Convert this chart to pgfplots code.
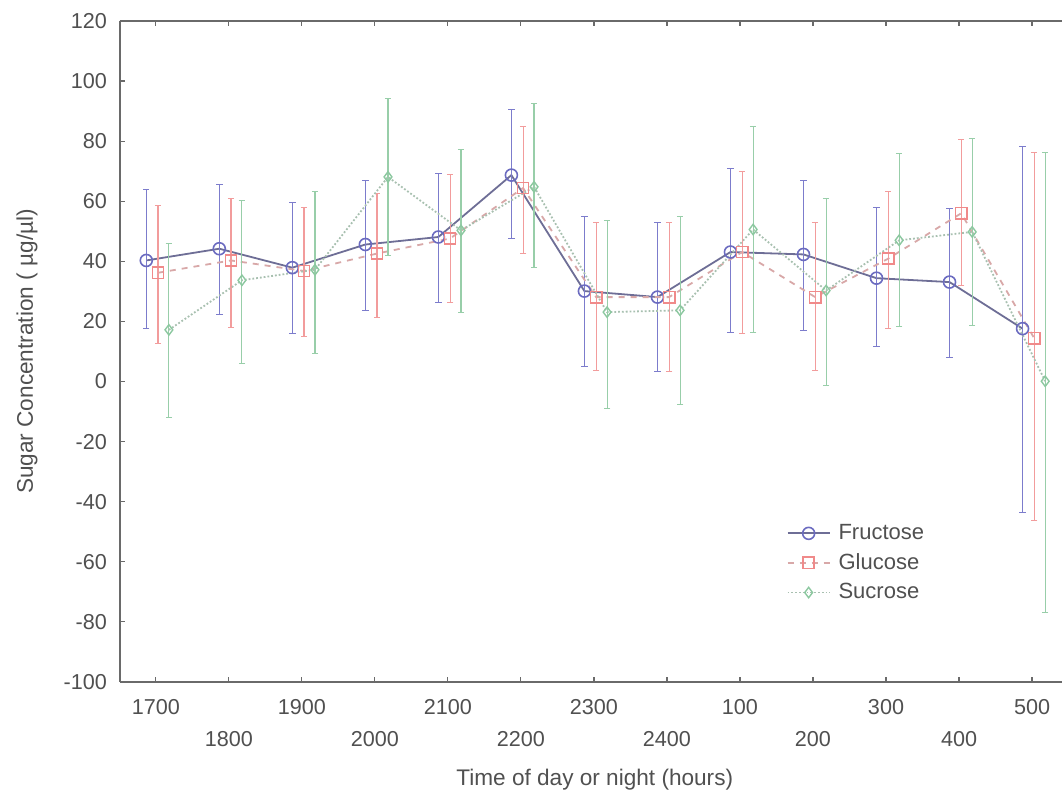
\documentclass[border=0pt]{standalone}
\usepackage{pgfplots}
\pgfplotsset{compat=1.18}
\usepackage{pgfplotstable}
\usepackage{fontspec}
\setmainfont{Liberation Sans}
\definecolor{txt}{HTML}{505050}
\definecolor{axisgray}{HTML}{6A6A6A}
\definecolor{fmark}{HTML}{6B6BC0}
\definecolor{ferr}{HTML}{7C7CCC}
\definecolor{fline}{HTML}{6E6E96}
\definecolor{gmark}{HTML}{F08A8A}
\definecolor{gerr}{HTML}{F29C9C}
\definecolor{gline}{HTML}{D8A8A8}
\definecolor{smark}{HTML}{8CC8A0}
\definecolor{serr}{HTML}{98CEA9}
\definecolor{sline}{HTML}{A8C0B0}

\pgfplotstableread{
x y ep em
0 40.3 23.6 22.5
1 44.2 21.5 21.9
2 37.9 21.7 21.8
3 45.6 21.4 21.9
4 48.1 21.1 21.7
5 68.7 21.9 21.1
6 30.1 24.7 25.1
7 28.1 25.0 24.7
8 43.1 27.8 26.7
9 42.3 24.5 25.3
10 34.4 23.5 22.7
11 33.1 24.5 25.0
12 17.6 60.5 61.2
}\fructose

\pgfplotstableread{
x y ep em
0 36.2 22.5 23.6
1 40.3 20.8 22.2
2 36.8 21.3 21.8
3 42.6 20.0 21.4
4 47.6 21.3 21.2
5 64.4 20.6 21.8
6 28.1 25.0 24.4
7 28.1 25.0 24.7
8 43.1 26.7 27.2
9 28.1 24.7 24.4
10 40.9 22.5 23.3
11 56.0 24.5 24.0
12 14.4 62.0 60.7
}\glucose

\pgfplotstableread{
x y ep em
0 17.2 28.9 29.1
1 33.7 26.6 27.6
2 37.2 26.2 28.0
3 68.1 26.1 26.1
4 50.3 26.9 27.2
5 64.8 27.8 26.7
6 23.1 30.6 31.9
7 23.7 31.3 31.4
8 50.6 34.4 34.2
9 30.3 30.6 31.6
10 47.0 29.0 28.7
11 49.8 31.1 31.1
12 0.1 76.3 77.0
}\sucrose

\begin{document}
\begin{tikzpicture}
\begin{axis}[
  name=ax,
  scale only axis,
  width=471pt, height=330.5pt,
  xmin=-0.49, xmax=12.41,
  ymin=-100, ymax=120,
  ytick={-100,-80,...,120},
  axis x line=box, axis y line=left,
  axis line style={-, color=axisgray, line width=0.9pt},
  tick align=inside,
  major tick length=2.5pt,
  tick style={color=axisgray, line width=0.6pt},
  xtick={0,2,...,12},
  xticklabels={1700,1900,2100,2300,100,300,500},
  extra x ticks={1,3,...,11},
  extra x tick labels={1800,2000,2200,2400,200,400},
  extra x tick style={xticklabel style={yshift=-16pt}},
  /pgf/number format/assume math mode=true,
  ticklabel style={font=\fontsize{10.8}{13}\selectfont, text=txt},
  xticklabel style={yshift=-5pt},
  yticklabel style={xshift=-3pt},
  every axis x label/.style={at={(rel axis cs:0.504,0)}, yshift=-49pt, anchor=center},
  every axis y label/.style={at={(rel axis cs:0,0.5)}, xshift=-46.5pt, rotate=90, anchor=center},
  xlabel={Time of day or night (hours)},
  ylabel={Sugar Concentration ( µg/µl)},
  label style={font=\fontsize{11.3}{13}\selectfont, text=txt},
  legend style={draw=none, fill=none, at={(0.701,0.18)}, anchor=west,
    font=\fontsize{11}{13}\selectfont, text=txt, row sep=1.5pt,
    /tikz/every odd column/.append style={column sep=2pt}},
  legend cell align=left,
  legend image code/.code={\draw[mark repeat=2,mark phase=2,#1] plot coordinates {(0pt,0pt) (10.5pt,0pt) (21pt,0pt)};},
]
\addplot[fline, line width=0.9pt, mark=o, mark size=3pt,
  mark options={solid, fmark, fill=white, line width=0.8pt},
  error bars/.cd, y dir=both, y explicit,
  error bar style={ferr, solid, line width=0.55pt},
  error mark options={rotate=90, mark size=1.6pt, ferr, solid}]
  table[x expr=\thisrow{x}-0.13, y=y, y error plus=ep, y error minus=em] {\fructose};
\addlegendentry{Fructose}
\addplot[gline, line width=0.9pt, dashed, mark=square, mark size=2.8pt,
  mark options={solid, gmark, fill=white, line width=0.8pt},
  error bars/.cd, y dir=both, y explicit,
  error bar style={gerr, solid, line width=0.55pt},
  error mark options={rotate=90, mark size=1.6pt, gerr, solid}]
  table[x expr=\thisrow{x}+0.03, y=y, y error plus=ep, y error minus=em] {\glucose};
\addlegendentry{Glucose}
\addplot[sline, line width=0.9pt, densely dotted, mark=diamond, mark size=2.6pt,
  mark options={solid, smark, fill=white, line width=0.7pt},
  error bars/.cd, y dir=both, y explicit,
  error bar style={serr, solid, line width=0.55pt},
  error mark options={rotate=90, mark size=1.6pt, serr, solid}]
  table[x expr=\thisrow{x}+0.18, y=y, y error plus=ep, y error minus=em] {\sucrose};
\addlegendentry{Sucrose}
\end{axis}
\pgfresetboundingbox
\path ([shift={(-60pt,-58.5pt)}]ax.south west) rectangle ([shift={(0pt,10.5pt)}]ax.north east);
\end{tikzpicture}
\end{document}
